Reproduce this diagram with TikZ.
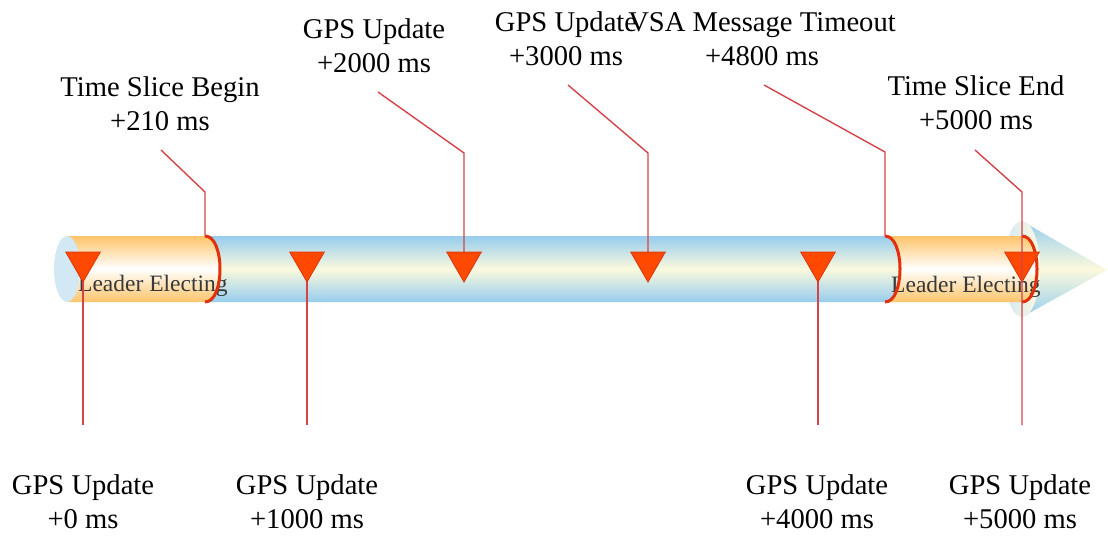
\documentclass[tikz,border=0pt]{standalone}
\usepackage{fontspec}
\setmainfont{Liberation Serif}
\usetikzlibrary{shapes.geometric}
\definecolor{pipeblue}{HTML}{96CDEE}
\definecolor{pipecream}{HTML}{FBF9DD}
\definecolor{pipeorange}{HTML}{FDC469}
\definecolor{capblue}{HTML}{D3E8F5}
\definecolor{ringred}{HTML}{E2300C}
\definecolor{markfill}{HTML}{FF4800}
\definecolor{markedge}{HTML}{D8380E}
\definecolor{leadred}{HTML}{D4434A}
\begin{document}
\begin{tikzpicture}[x=1pt,y=-1pt,
  lbl/.style={font=\fontsize{28.6}{34}\selectfont, align=center, inner sep=0pt, anchor=base},
  phase/.style={font=\fontsize{23.5}{28}\selectfont, text=black!78, inner sep=0pt, anchor=base west},
  evmark/.style={regular polygon, regular polygon sides=3, shape border rotate=180,
                 minimum size=40pt, inner sep=0pt, fill=markfill, draw=markedge, line width=0.8pt},
  lead/.style={draw=leadred, line width=1.4pt},
  ring/.style={draw=ringred, line width=3pt},
  bluetube/.style={top color=pipeblue, bottom color=pipeblue, middle color=pipecream},
  orangetube/.style={top color=pipeorange, bottom color=pipeorange, middle color=white}]
\useasboundingbox (0,0) rectangle (1108,536);

% arrow head (cone) at the right end of the time line
\shade[bluetube] (1022,221) -- (1107,270) -- (1022,317) -- cycle;
\shade[left color=capblue, right color=pipecream] (1022,269) ellipse [x radius=18pt, y radius=48pt];

% tube sections: second election phase, main slice, first election phase
\shade[orangetube] (885,236) -- (1022,236) .. controls (1042,236) and (1042,302) .. (1022,302) -- (885,302) -- cycle;
\shade[bluetube] (205,236) -- (885,236) .. controls (905,236) and (905,302) .. (885,302) -- (205,302) -- cycle;
\shade[orangetube] (67,236) -- (205,236) .. controls (225,236) and (225,302) .. (205,302) -- (67,302) -- cycle;
\fill[capblue] (67,269) ellipse [x radius=13pt, y radius=33pt];

% phase labels
\node[phase] (le1) at (78,291) {Leader Electing};
\node[phase] (le2) at (891,292) {Leader Electing};

% phase boundaries
\draw[ring] (205,236) .. controls (225,236) and (225,302) .. (205,302);
\draw[ring] (885,236) .. controls (905,236) and (905,302) .. (885,302);
\draw[ring] (1022,236) .. controls (1042,236) and (1042,302) .. (1022,302);

% event labels (placed by the baseline of their last line)
\node[lbl] (tsb)  at (160,130)  {Time Slice Begin\\+210 ms};
\node[lbl] (g2)   at (374,72)   {GPS Update\\+2000 ms};
\node[lbl] (g3)   at (566,65)   {GPS Update\\+3000 ms};
\node[lbl] (vsa)  at (762,65)   {VSA Message Timeout\\+4800 ms};
\node[lbl] (tse)  at (976,129)  {Time Slice End\\+5000 ms};
\node[lbl] (g0)   at (83,528)   {GPS Update\\+0 ms};
\node[lbl] (g1)   at (307,528)  {GPS Update\\+1000 ms};
\node[lbl] (g4)   at (817,528)  {GPS Update\\+4000 ms};
\node[lbl] (g5)   at (1020,528) {GPS Update\\+5000 ms};

% event positions on the time line
\coordinate (p0) at (83,262);  \coordinate (p1) at (307,262);
\coordinate (p2) at (464,262); \coordinate (p3) at (648,262);
\coordinate (p4) at (818,262); \coordinate (p5) at (1022,262);

% leader line corners and free ends
\coordinate (tsbS) at (161,150); \coordinate (tsbK) at (205,192); \coordinate (tsbE) at (205,236);
\coordinate (g2S)  at (378,92);  \coordinate (g2K)  at (464,153);
\coordinate (g3S)  at (568,85);  \coordinate (g3K)  at (648,153);
\coordinate (vsaS) at (764,85);  \coordinate (vsaK) at (885,152); \coordinate (vsaE) at (885,236);
\coordinate (tseS) at (975,150); \coordinate (tseK) at (1022,192);
\coordinate (b0) at (83,425);  \coordinate (b1) at (307,425);
\coordinate (b4) at (818,425); \coordinate (b5) at (1022,425);

% leader lines
\draw[lead] (tsbS) -- (tsbK) -- (tsbE);
\draw[lead] (g2S) -- (g2K) -- (p2);
\draw[lead] (g3S) -- (g3K) -- (p3);
\draw[lead] (vsaS) -- (vsaK) -- (vsaE);
\draw[lead] (p0) -- (b0);
\draw[lead] (p1) -- (b1);
\draw[lead] (p4) -- (b4);

% event marks
\node[evmark] (m0) at (p0) {};
\node[evmark] (m1) at (p1) {};
\node[evmark] (m2) at (p2) {};
\node[evmark] (m3) at (p3) {};
\node[evmark] (m4) at (p4) {};
\node[evmark] (m5) at (p5) {};

% the slice end line runs through its mark
\draw[lead] (tseS) -- (tseK) -- (m5.center) -- (b5);
\end{tikzpicture}
\end{document}
